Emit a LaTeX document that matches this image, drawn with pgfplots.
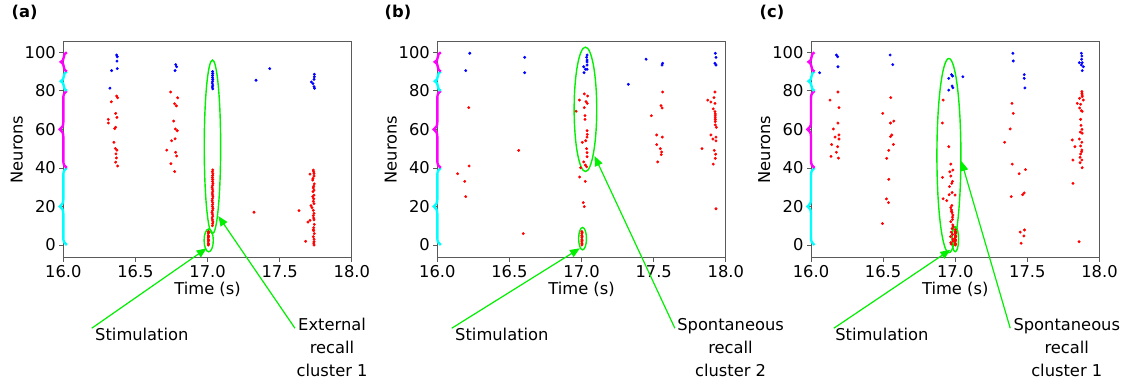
\documentclass[border=0pt]{standalone}
\usepackage{fontspec}
\setmainfont{DejaVu Sans}
\usepackage{pgfplots}
\pgfplotsset{compat=1.18}
\usetikzlibrary{decorations.pathreplacing,arrows.meta}
\definecolor{spine}{RGB}{90,90,90}
\definecolor{annot}{RGB}{0,240,0}
\definecolor{rred}{RGB}{255,0,0}
\definecolor{bblue}{RGB}{0,0,255}
\definecolor{mag}{RGB}{255,0,255}
\definecolor{cyn}{RGB}{0,255,255}
\newcommand{\fs}{\fontsize{16.3}{19.5}\selectfont}
\newcommand{\fsb}{\fontsize{16.3}{22.8}\selectfont}
\pgfplotsset{raster/.style={
  scale only axis, width=288.5pt, height=216pt,
  xmin=16, xmax=18, ymin=-6.59, ymax=105.5,
  xtick={16,16.5,17,17.5,18}, ytick={0,20,40,60,80,100},
  xticklabel style={/pgf/number format/.cd,fixed,fixed zerofill,precision=1},
  /pgf/number format/assume math mode=true,
  tick label style={font=\fs, text=black},
  label style={font=\fs, text=black},
  xlabel={Time (s)}, ylabel={Neurons},
  xlabel style={at={(axis description cs:0.5,-0.1449)}, anchor=center},
  ylabel style={at={(axis description cs:-0.1615,0.5)}, anchor=center},
  axis line style={spine, line width=0.8pt},
  tick style={spine, line width=0.8pt},
  tick pos=left, tick align=outside, major tick length=4pt,
  clip=false,
},
rdot/.style={only marks, mark=*, mark size=1.25pt, color=rred, mark options={draw=rred, fill=rred}},
bdot/.style={only marks, mark=*, mark size=1.25pt, color=bblue, mark options={draw=bblue, fill=bblue}},
}
\newcommand{\braces}{%
  \draw[cyn, line width=2.4pt, decorate, decoration={brace, amplitude=7pt}] ([xshift=3.5pt]axis cs:16,0) -- ([xshift=3.5pt]axis cs:16,40);
  \draw[mag, line width=2.4pt, decorate, decoration={brace, amplitude=7pt}] ([xshift=3.5pt]axis cs:16,40) -- ([xshift=3.5pt]axis cs:16,80);
  \draw[cyn, line width=2.4pt, decorate, decoration={brace, amplitude=6pt}] ([xshift=3.5pt]axis cs:16,80) -- ([xshift=3.5pt]axis cs:16,90);
  \draw[mag, line width=2.4pt, decorate, decoration={brace, amplitude=6pt}] ([xshift=3.5pt]axis cs:16,90) -- ([xshift=3.5pt]axis cs:16,100);
}
\tikzset{garrow/.style={annot, line width=1.2pt, -{Triangle[length=10pt,width=8pt]}},
         gell/.style={annot, line width=1.4pt}}
\begin{document}
\begin{tikzpicture}
\useasboundingbox (0,0) rectangle (1129pt,383pt);
\node[font=\bfseries\fs] at (24.5pt,370.5pt) {(a)};
\node[font=\bfseries\fs] at (398pt,370.5pt) {(b)};
\node[font=\bfseries\fs] at (772pt,370.5pt) {(c)};
% ---------------- (a)
\begin{axis}[raster, at={(63.3pt,125.3pt)}, anchor=south west]
\addplot[rdot] coordinates {
(16.370,77.3)(16.377,76.4)(16.333,74.3)(16.363,68.3)(16.372,66.2)(16.312,65.2)(16.312,63.3)(16.363,61.1)(16.356,60.4)(16.351,53.3)(16.361,50.1)(16.372,49.2)(16.365,47.3)(16.368,45.2)(16.363,43.0)(16.377,41.0)
(16.744,79.4)(16.793,76.4)(16.772,73.3)(16.784,72.2)(16.765,64.3)(16.777,60.2)(16.790,59.3)(16.775,55.1)(16.751,54.1)(16.717,49.2)(16.779,48.1)(16.786,46.2)(16.746,42.2)(16.772,38.1)
(17.322,17.0)(17.634,17.8)
(17.033,10)(17.035,11)(17.037,12)(17.034,13)(17.032,14)(17.036,15)(17.034,16)(17.031,17)(17.035,18)(17.037,19)(17.033,20)(17.035,21)(17.036,22)(17.032,23)(17.034,24)(17.037,25)(17.035,26)(17.033,27)(17.036,28)(17.034,29)(17.032,30)(17.035,31)(17.037,32)(17.034,33)(17.036,34)(17.033,35)(17.035,36)(17.037,37)(17.034,38)(17.036,39)
(17.005,0)(17.005,1)(17.005,2)(17.005,3)(17.005,4)(17.005,5)(17.005,6)(17.005,7)(17.007,0.5)(17.007,2.5)(17.007,4.5)(17.007,6.5)
(17.733,38.9)(17.710,36.8)(17.738,35.8)(17.729,33.7)(17.740,31.7)(17.733,29.6)(17.731,27.7)(17.738,25.9)(17.729,25.1)(17.733,22.7)(17.717,20.4)(17.724,19.4)(17.738,16.4)(17.733,15.2)(17.710,12.8)(17.696,11.9)(17.740,10.7)(17.736,9.0)(17.736,7.4)(17.740,5.9)(17.733,4.3)(17.680,1.9)(17.738,1.7)(17.738,0)
(17.736,38)(17.738,37)(17.731,34.6)(17.736,30.5)(17.738,28.5)(17.736,24)(17.738,21.5)(17.733,18)(17.736,14)(17.738,13)(17.733,8)(17.738,3)(17.736,1)
};
\addplot[bdot] coordinates {
(16.370,98.6)(16.374,97.7)(16.372,95.4)(16.335,90.5)(16.374,91.5)(16.323,81.4)
(16.779,93.6)(16.786,92.5)(16.775,90.5)
(17.036,81)(17.034,82)(17.036,83)(17.033,84)(17.035,85)(17.036,86)(17.034,87)(17.035,88)(17.036,89)(17.035,90)
(17.336,85.5)(17.431,91.5)
(17.740,88.6)(17.740,87.3)(17.738,86.0)(17.720,84.6)(17.731,83.7)(17.738,82.2)(17.742,81.3)
};
\braces
\draw[gell] (axis cs:17.034,50.9) ellipse [x radius=8.2pt, y radius=86.9pt];
\draw[gell] (axis cs:17.008,2.4) ellipse [x radius=4.6pt, y radius=11.4pt];
\draw[garrow] (axis cs:16.197,-43.2) -- (axis cs:16.994,-1.7);
\draw[garrow] (axis cs:17.606,-43.2) -- (axis cs:17.075,15);
\node[anchor=west, inner sep=0pt, font=\fs] at (axis cs:16.22,-46.2) {Stimulation};
\node[align=center, inner sep=0pt, font=\fsb] at (axis cs:17.863,-53.2) {External\\recall\\cluster 1};
\end{axis}
% ---------------- (b)
\begin{axis}[raster, at={(437.3pt,125.3pt)}, anchor=south west]
\addplot[rdot] coordinates {
(16.218,71.3)(16.220,41.0)(16.141,37.0)(16.190,33.0)(16.197,25.1)(16.564,49.1)(16.596,5.9)
(17.019,78.4)(16.985,75.2)(17.042,77.3)(17.031,74.4)(17.040,73.5)(17.019,71.3)(16.962,69.4)(17.024,67.1)(17.024,65.2)(17.038,59.3)(17.040,57.4)(17.038,56.0)(17.029,54.1)(17.005,53.3)(17.035,50.0)(17.038,47.9)(17.038,45.8)(17.015,43.1)(17.026,41.5)(17.035,40.6)(16.994,40.1)(16.987,35.3)(17.026,33.0)(17.012,22.0)(17.019,19.9)
(17.002,0)(17.002,1)(17.002,2)(17.002,3)(17.002,4)(17.002,5)(17.002,6)(17.002,7)(17.004,0.5)(17.004,2.5)(17.004,4.5)(17.004,6.5)
(17.562,79.4)(17.551,72.3)(17.558,71.1)(17.484,67.1)(17.521,57.1)(17.560,56.0)(17.521,52.1)(17.546,50.0)(17.555,48.3)(17.553,46.9)(17.528,43.1)
(17.925,79.4)(17.918,76.5)(17.875,75.2)(17.897,74.2)(17.925,73.5)(17.913,70.6)(17.925,69.2)(17.927,68)(17.927,67)(17.927,66)(17.927,65)(17.927,64)(17.927,62.3)(17.934,61.1)(17.897,57.1)(17.911,55.0)(17.932,56.0)(17.932,54.0)(17.835,50.0)(17.920,49.1)(17.930,47.1)(17.927,45.0)(17.913,42.0)(17.932,18.8)
};
\addplot[bdot] coordinates {
(16.225,99.5)(16.197,90.5)(16.606,97.4)(16.606,89.4)
(17.038,98.6)(17.035,97.4)(17.038,96)(17.038,95)(17.038,93.4)(17.015,92.5)(17.026,91.2)(17.038,91.2)(17.017,89.4)
(17.447,96.4)(17.324,83.4)(17.562,94.3)(17.558,93.4)
(17.927,99.5)(17.932,97.4)(17.925,94.3)(17.932,93.4)
};
\braces
\draw[gell] (axis cs:17.027,70.4) ellipse [x radius=11.3pt, y radius=62.2pt];
\draw[gell] (axis cs:17.007,3.3) ellipse [x radius=3.9pt, y radius=11.2pt];
\draw[garrow] (axis cs:16.100,-43.2) -- (axis cs:16.989,-1.7);
\draw[garrow] (axis cs:17.647,-43.2) -- (axis cs:17.090,46.2);
\node[anchor=west, inner sep=0pt, font=\fs] at (axis cs:16.123,-46.2) {Stimulation};
\node[align=center, inner sep=0pt, font=\fsb] at (axis cs:18.033,-53.2) {Spontaneous\\recall\\cluster 2};
\end{axis}
% ---------------- (c)
\begin{axis}[raster, at={(811pt,125.3pt)}, anchor=south west]
\addplot[rdot] coordinates {
(16.187,79.4)(16.132,75.2)(16.194,71.3)(16.187,63.3)(16.155,60.2)(16.167,56.0)(16.194,57.1)(16.194,55.0)(16.143,52.1)(16.185,51.0)(16.176,48.1)(16.139,46.0)(16.190,45.1)
(16.553,76.5)(16.497,68.3)(16.551,63.3)(16.574,64.3)(16.560,57.1)(16.551,56.2)(16.571,52.2)(16.539,49.1)(16.525,45.0)(16.539,34.1)(16.523,23.9)(16.537,22.0)(16.495,11.1)
(16.916,75.2)(16.911,63.3)(16.955,51.0)(16.969,42.0)(16.983,38.9)(16.962,38.0)(16.911,35.1)(16.969,35.8)(16.976,32.0)(16.981,33.0)(16.960,30.3)(16.978,27.2)(16.958,26.1)(16.999,25.9)(16.916,24.0)(16.941,23.0)(16.969,19.4)(16.974,18.2)(16.978,16.8)(16.983,15.6)(16.981,13.3)(16.969,12.1)(16.983,10.4)(16.978,8.5)(16.972,6.7)(16.967,4.3)(16.983,3.1)(16.969,1.2)
(16.976,20.5)(16.981,14.5)(16.974,17.5)(16.985,9.5)(16.980,5.5)(16.985,2.0)(16.972,0.5)
(17.000,0)(17.000,1)(17.000,2)(17.000,3)(17.000,4)(17.000,5)(17.000,6)(17.000,7)(17.000,8)(17.003,0.5)(17.003,2.5)(17.003,4.5)(17.003,6.5)
(17.393,73.5)(17.402,68.3)(17.381,60.2)(17.342,53.3)(17.395,42.0)(17.487,39.1)(17.443,37.0)(17.478,27.0)(17.467,26.1)(17.388,25.1)(17.450,6.7)(17.480,7.8)(17.476,4.7)(17.457,0.9)
(17.878,79.6)(17.878,78.7)(17.880,77.8)(17.880,77.0)(17.862,76.1)(17.888,75.2)(17.846,73.5)(17.869,73.0)(17.862,71.1)(17.874,69.7)(17.880,69.4)(17.869,65.2)(17.872,62.1)(17.878,60.0)(17.867,58.6)(17.880,58.0)(17.860,55.0)(17.811,54.5)(17.878,53.3)(17.830,51.0)(17.869,51.4)(17.878,49.3)(17.876,48.4)(17.869,47.2)(17.865,45.5)(17.878,44.1)(17.865,42.7)(17.880,40.1)(17.816,44.1)(17.816,32.0)(17.858,1.7)
};
\addplot[bdot] coordinates {
(16.060,89.4)(16.176,98.6)(16.185,97.7)(16.187,92.5)(16.548,98.6)(16.567,93.6)
(16.974,88.4)(16.981,87.7)(16.955,86.5)(16.978,82.5)(16.983,81.6)(16.955,80.4)(17.053,87.3)
(17.400,99.5)(17.402,95.5)(17.478,88.4)(17.478,86.5)(17.483,81.5)
(17.874,99.5)(17.878,98.1)(17.876,96.4)(17.880,94.6)(17.860,94.6)(17.874,93.4)(17.888,92.5)(17.880,90.5)
};
\braces
\draw[gell] (axis cs:16.956,46.4) ellipse [x radius=12pt, y radius=97.1pt];
\draw[gell] (axis cs:17.000,3.0) ellipse [x radius=3.3pt, y radius=12.5pt];
\draw[garrow] (axis cs:16.158,-43.2) -- (axis cs:16.966,-2.5);
\draw[garrow] (axis cs:17.381,-43.2) -- (axis cs:17.042,43.6);
\node[anchor=west, inner sep=0pt, font=\fs] at (axis cs:16.167,-46.2) {Stimulation};
\node[align=center, inner sep=0pt, font=\fsb] at (axis cs:17.773,-53.2) {Spontaneous\\recall\\cluster 1};
\end{axis}
\end{tikzpicture}
\end{document}
